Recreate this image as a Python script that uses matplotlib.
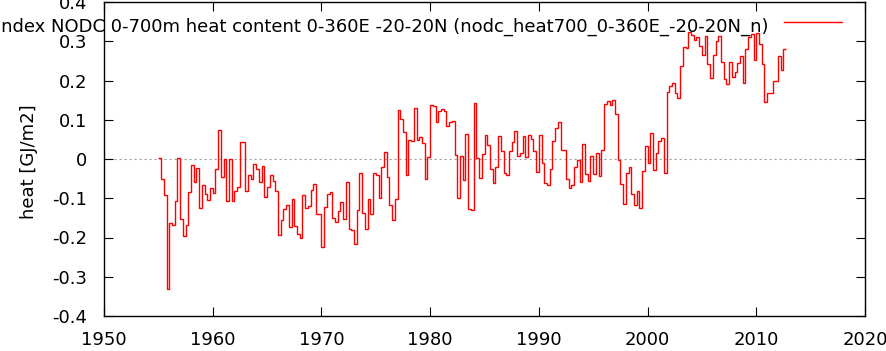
import numpy as np
import matplotlib
matplotlib.use("Agg")
import matplotlib.pyplot as plt
from matplotlib.lines import Line2D

# quarterly NODC 0-700m heat content, tropics (-20..20N), GJ/m2
start_year = 1955.0
heat_1955_1964 = [0.003, -0.051, -0.092, -0.331, -0.164, -0.168, -0.106, 0.003,
                  -0.154, -0.195, -0.168, -0.083, -0.015, -0.059, -0.023, -0.124,
                  -0.066, -0.089, -0.104, -0.074, -0.086, -0.025, 0.074, -0.047,
                  0.000, -0.106, 0.000, -0.106, -0.081, -0.071, 0.043, 0.043,
                  -0.081, -0.041, -0.051, -0.013, -0.025, -0.059, -0.017, -0.097]
heat_1965_1974 = [-0.071, -0.041, -0.055, -0.081, -0.193, -0.155, -0.127, -0.117,
                  -0.173, -0.102, -0.170, -0.191, -0.201, -0.092, -0.125, -0.120,
                  -0.079, -0.064, -0.140, -0.140, -0.223, -0.122, -0.089, -0.084,
                  -0.150, -0.160, -0.132, -0.109, -0.153, -0.059, -0.178, -0.181,
                  -0.216, -0.130, -0.036, -0.137, -0.178, -0.102, -0.140, -0.036]
heat_1975_1984 = [-0.041, -0.099, -0.020, 0.018, -0.046, -0.117, -0.155, -0.102,
                  0.125, 0.102, 0.069, -0.041, 0.048, 0.046, 0.130, 0.048,
                  0.056, 0.041, -0.051, 0.005, 0.138, 0.136, 0.094, 0.122,
                  0.127, 0.122, 0.084, 0.094, 0.097, 0.010, -0.099, 0.008,
                  -0.053, 0.064, -0.127, -0.130, 0.142, 0.003, -0.048, 0.013]
heat_1985_1994 = [0.061, 0.036, -0.025, -0.061, -0.020, 0.059, 0.020, -0.036,
                  -0.041, 0.020, 0.043, 0.071, 0.008, 0.015, 0.059, 0.005,
                  0.061, 0.051, 0.020, -0.033, 0.061, -0.010, -0.061, -0.066,
                  -0.025, 0.046, 0.079, 0.094, 0.023, 0.023, -0.051, -0.074,
                  -0.066, -0.020, -0.003, -0.059, 0.038, -0.038, -0.056, 0.008]
heat_1995_2004 = [-0.038, 0.015, -0.043, 0.023, 0.140, 0.148, 0.137, 0.150,
                  0.115, -0.003, -0.064, -0.115, -0.036, -0.020, -0.089, -0.117,
                  -0.081, -0.125, -0.031, 0.033, -0.010, 0.066, -0.028, 0.015,
                  0.046, 0.053, -0.036, 0.170, 0.186, 0.193, 0.168, 0.155,
                  0.237, 0.285, 0.282, 0.323, 0.316, 0.303, 0.310, 0.288]
heat_2005_2012 = [0.265, 0.313, 0.243, 0.206, 0.265, 0.300, 0.313, 0.247,
                  0.204, 0.191, 0.247, 0.209, 0.221, 0.244, 0.262, 0.193,
                  0.280, 0.310, 0.318, 0.251, 0.321, 0.293, 0.242, 0.145,
                  0.168, 0.168, 0.198, 0.198, 0.262, 0.226, 0.280]

heat = np.array(heat_1955_1964 + heat_1965_1974 + heat_1975_1984 +
                heat_1985_1994 + heat_1995_2004 + heat_2005_2012)
edges = start_year + np.arange(len(heat) + 1) / 4.0

xticks = [1950, 1960, 1970, 1980, 1990, 2000, 2010, 2020]
yticks = [-0.4, -0.3, -0.2, -0.1, 0.0, 0.1, 0.2, 0.3, 0.4]
ytick_labels = ['-0.4', '-0.3', '-0.2', '-0.1', '0', '0.1', '0.2', '0.3', '0.4']
label = 'index NODC 0-700m heat content 0-360E -20-20N (nodc_heat700_0-360E_-20-20N_n)'

plt.rcParams['font.family'] = 'DejaVu Sans'
plt.rcParams['axes.unicode_minus'] = False
FS = 13

W, H = 887, 351
fig = plt.figure(figsize=(W / 100, H / 100), dpi=100)
ax = fig.add_axes([104 / W, 1 - 316 / H, (865 - 104) / W, (316 - 2) / H])

ax.axhline(0, color='#a0a0a0', lw=0.8, ls=(0, (2, 2.5)), zorder=1)
ax.stairs(heat, edges, baseline=None, color='red', lw=1.0, zorder=2)

ax.set_xlim(1950, 2020)
ax.set_ylim(-0.4, 0.4)
ax.set_xticks(xticks)
ax.set_yticks(yticks)
ax.set_yticklabels(ytick_labels)
ax.tick_params(direction='in', length=6.5, width=0.8, labelsize=FS,
               top=True, right=True, colors='black')
ax.tick_params(axis='x', pad=11)
ax.tick_params(axis='y', pad=12)
for s in ax.spines.values():
    s.set_linewidth(1.0)

ax.set_ylabel('heat [GJ/m2]', fontsize=FS)
ax.yaxis.set_label_coords(-0.087, 0.49)

# gnuplot-style key: label right-aligned, sample line to its right
fig.text(769 / W, 1 - 32 / H, label, ha='right', va='baseline', fontsize=FS)
fig.add_artist(Line2D([784 / W, 842 / W], [1 - 22 / H, 1 - 22 / H],
                      color='red', lw=1.0))

fig.savefig('out.png', dpi=100)
